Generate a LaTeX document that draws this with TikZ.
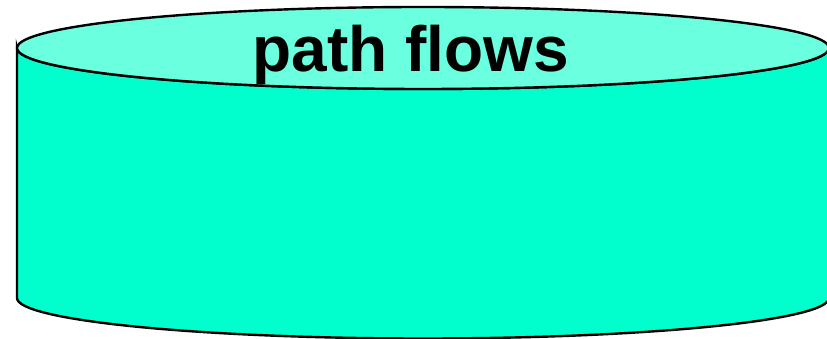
\documentclass[tikz,border=0pt]{standalone}
\usepackage{fontspec}
\setmainfont{Liberation Sans}
\definecolor{bodyc}{HTML}{00FFCC}
\definecolor{topc}{HTML}{6AFFDE}
\begin{document}
\begin{tikzpicture}[x=1pt,y=1pt,
  outline/.style={draw=black,line width=2.4pt},
  lbl/.style={font=\fontsize{64}{64}\selectfont\bfseries,anchor=base,inner sep=0pt}]
\useasboundingbox (0,0) rectangle (827,339);
\clip (0,0) rectangle (827,339);
% body
\path[outline,fill=bodyc] (17,291) -- (17,41)
  arc[start angle=180,end angle=360,x radius=406,y radius=40.5]
  -- (829,291)
  arc[start angle=360,end angle=180,x radius=406,y radius=41] -- cycle;
% top
\path[outline,fill=topc] (423,291) ellipse[x radius=406,y radius=41];
\node[lbl] (t) at (411,267) {path flows};
\end{tikzpicture}
\end{document}
